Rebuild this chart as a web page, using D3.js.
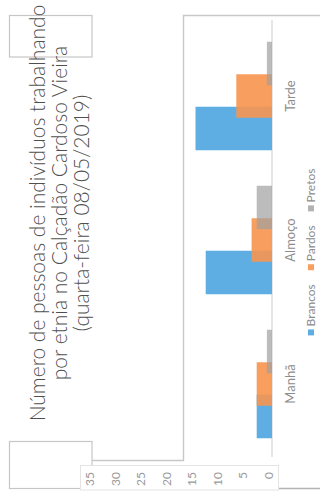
<!DOCTYPE html>
<html>
<head>
<meta charset="utf-8">
<script src="https://cdn.jsdelivr.net/npm/d3@7"></script>
<style>
  html, body { margin: 0; padding: 0; background: #fff; overflow: hidden; }
  svg { display: block; font-family: "Lato", "Open Sans", sans-serif; }
</style>
</head>
<body>
<svg id="chart" width="320" height="499"></svg>
<script>
// Number of people working, by ethnicity and period of the day
const periods = ["Manhã", "Almoço", "Tarde"];
const seriesNames = ["Brancos", "Pardos", "Pretos"];
const brancos = [3, 13, 15];
const pardos = [3, 4, 7];
const pretos = [1, 3, 1];
const valueTicks = [0, 5, 10, 15, 20, 25, 30, 35];
const titleLines = [
  "Número de pessoas de indivíduos trabalhando",
  "por etnia no Calçadão Cardoso Vieira",
  "(quarta-feira 08/05/2019)"
];
const seriesColors = ["#5eaee3", "#f7954f", "#a0a0a0"];
const seriesOpacity = [1, 0.9, 0.7];

const W = 320, H = 499;
const svg = d3.select("#chart");

// Page frame and boxes behind the chart
const deco = svg.append("g").attr("fill", "none");
deco.append("rect").attr("x", 9.5).attr("y", 15.5).attr("width", 82.5).attr("height", 41.5)
  .attr("stroke", "#c6c6c6").attr("stroke-width", 1.2);
deco.append("rect").attr("x", 9.5).attr("y", 441.5).attr("width", 82.5).attr("height", 47)
  .attr("stroke", "#c6c6c6").attr("stroke-width", 1.2);
deco.append("path").attr("d", "M92,460.5H183.5V15.5H320")
  .attr("stroke", "#c8c8c8").attr("stroke-width", 1.4);
deco.append("rect").attr("x", 80.5).attr("y", 465.5).attr("width", 198).attr("height", 24.5)
  .attr("fill", "#fff").attr("stroke", "#e4e4e4");
deco.append("path").attr("d", "M279,488.5H320").attr("stroke", "#b4b4b4").attr("stroke-width", 1.4);

// The chart itself is laid out as a column chart and turned a quarter turn
const g = svg.append("g").attr("transform", `translate(0,${H}) rotate(-90)`);

const x = d3.scaleBand().domain(periods).range([43, 475]);
const y = d3.scaleLinear().domain([0, 35]).range([272, 93.5]);
const offset = d3.scalePoint().domain(seriesNames).range([-32.5, 32.5]);
const barW = 43.5;

// Baseline
g.append("line")
  .attr("x1", 42).attr("x2", 479)
  .attr("y1", y(0)).attr("y2", y(0))
  .attr("stroke", "#d6d6d6").attr("stroke-width", 1.2);

const seriesValues = [brancos, pardos, pretos];
seriesNames.forEach((name, si) => {
  g.append("g").selectAll("rect")
    .data(periods.map((p, i) => ({ period: p, value: seriesValues[si][i] })))
    .join("rect")
    .attr("x", d => x(d.period) + x.bandwidth() / 2 + offset(name) - barW / 2)
    .attr("width", barW)
    .attr("y", d => y(d.value))
    .attr("height", d => y(0) - y(d.value))
    .attr("fill", seriesColors[si])
    .attr("fill-opacity", seriesOpacity[si]);
});

// Value axis labels
const yAxis = d3.axisLeft(y).tickValues(valueTicks).tickSize(0).tickPadding(0);
const ya = g.append("g").attr("transform", "translate(27,-3.5)").call(yAxis);
ya.select(".domain").remove();
ya.selectAll("text").attr("fill", "#9a9a9a").attr("font-size", 12)
  .attr("font-family", "Lato, sans-serif");

// Category labels
g.append("g").selectAll("text")
  .data(periods).join("text")
  .attr("x", d => x(d) + x.bandwidth() / 2)
  .attr("y", 295)
  .attr("text-anchor", "middle")
  .attr("font-size", 13)
  .attr("fill", "#8c8c8c")
  .text(d => d);

// Legend
const legend = g.append("g");
const items = legend.selectAll("g").data(seriesNames).join("g");
items.append("rect").attr("width", 6).attr("height", 6).attr("y", -3)
  .attr("fill", (d, i) => seriesColors[i]).attr("fill-opacity", (d, i) => Math.max(seriesOpacity[i], 0.8));
items.append("text").attr("x", 9).attr("dy", "0.35em")
  .attr("font-size", 12).attr("fill", "#8c8c8c").text(d => d);
let cursor = 0;
const gap = 14;
items.each(function () {
  const w = 9 + d3.select(this).select("text").node().getComputedTextLength();
  d3.select(this).attr("transform", `translate(${cursor},0)`);
  cursor += w + gap;
});
const legendW = cursor - gap;
legend.attr("transform", `translate(${247 - legendW / 2},311)`);

// Title
const title = g.append("g").attr("fill", "#4f4f4f").attr("text-anchor", "middle")
  .attr("font-weight", 300);
const baselines = [45, 67, 89];
const tl = title.selectAll("text").data(titleLines).join("text")
  .attr("x", 286)
  .attr("y", (d, i) => baselines[i])
  .attr("font-size", 20)
  .text(d => d);
const measured = tl.nodes()[0].getComputedTextLength();
tl.attr("font-size", 20 * 417 / measured);
</script>
</body>
</html>
